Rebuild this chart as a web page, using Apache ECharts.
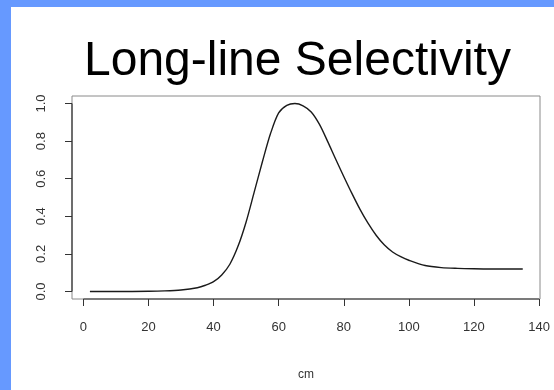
<!DOCTYPE html>
<html>
<head>
<meta charset="utf-8">
<style>
  html, body { margin: 0; padding: 0; background: #fff; }
  #chart { width: 554px; height: 390px; }
</style>
<script src="https://cdn.jsdelivr.net/npm/echarts@6/dist/echarts.min.js"></script>
</head>
<body>
<div id="chart"></div>
<script>
// selectivity curve
const lengthCm = [2, 10, 20, 25, 30, 35, 37.5, 40, 42.5, 45, 47.5, 50, 52.5, 55, 57.5, 60, 62.5, 65, 67.5, 70, 72.5, 75, 77.5, 80, 82.5, 85, 87.5, 90, 92.5, 95, 97.5, 100, 105, 110, 115, 120, 125, 130, 135]
const selectivity = [0, 0, 0.001, 0.003, 0.008, 0.02, 0.033, 0.052, 0.088, 0.145, 0.24, 0.37, 0.53, 0.69, 0.84, 0.95, 0.99, 1.0, 0.988, 0.955, 0.89, 0.8, 0.705, 0.612, 0.522, 0.437, 0.362, 0.298, 0.247, 0.21, 0.185, 0.166, 0.138, 0.127, 0.123, 0.121, 0.12, 0.12, 0.12]

const xTicks = [0, 20, 40, 60, 80, 100, 120, 140]
const yTicks = [0, 0.2, 0.4, 0.6, 0.8, 1.0]

const titleText = 'Long-line Selectivity'
const xName = 'cm'

const font = "'Liberation Sans', Arial, sans-serif"
const axisColor = '#333'
const xMin = -3.5
const xMax = 140.3
const yMin = -0.04
const yMax = 1.04

const chart = echarts.init(document.getElementById('chart'))

chart.setOption({
  backgroundColor: '#fff',
  animation: false,
  title: {
    text: titleText,
    left: 79,
    top: 33,
    textStyle: { fontFamily: font, fontSize: 48, fontWeight: 'normal', color: '#000' }
  },
  graphic: [
    { type: 'rect', shape: { x: 0, y: 0, width: 554, height: 7 }, style: { fill: '#6699ff' } },
    { type: 'rect', shape: { x: 0, y: 0, width: 11, height: 390 }, style: { fill: '#6699ff' } }
  ],
  grid: {
    left: 72, right: 14, top: 96, bottom: 91,
    show: true, borderColor: '#8a8a8a', borderWidth: 1, backgroundColor: 'transparent'
  },
  xAxis: {
    type: 'value',
    min: xMin,
    max: xMax,
    name: xName,
    nameLocation: 'middle',
    nameGap: 70,
    nameTextStyle: { fontFamily: font, fontSize: 12, color: axisColor },
    splitLine: { show: false },
    axisLine: { show: false, onZero: false },
    axisTick: { show: true, inside: false, customValues: xTicks, length: 7, lineStyle: { color: axisColor } },
    axisLabel: {
      customValues: xTicks,
      margin: 22,
      fontFamily: font,
      fontSize: 13,
      color: axisColor
    }
  },
  yAxis: {
    type: 'value',
    min: yMin,
    max: yMax,
    splitLine: { show: false },
    axisLine: { show: false, onZero: false },
    axisTick: { show: true, inside: false, customValues: yTicks, length: 7, lineStyle: { color: axisColor } },
    axisLabel: {
      customValues: yTicks,
      rotate: 90,
      margin: 24,
      fontFamily: font,
      fontSize: 13,
      color: axisColor,
      formatter: (v) => v.toFixed(1)
    }
  },
  series: [
    {
      type: 'line',
      data: lengthCm.map((x, i) => [x, selectivity[i]]),
      smooth: 0.3,
      showSymbol: false,
      lineStyle: { color: '#1a1a1a', width: 1.4 }
    },
    {
      // R draws the axis line only between the first and last tick
      type: 'line',
      silent: true,
      clip: false,
      showSymbol: false,
      data: [[xTicks[0], yMin], [xTicks[xTicks.length - 1], yMin]],
      lineStyle: { color: axisColor, width: 1.2 }
    },
    {
      type: 'line',
      silent: true,
      clip: false,
      showSymbol: false,
      data: [[xMin, yTicks[0]], [xMin, yTicks[yTicks.length - 1]]],
      lineStyle: { color: axisColor, width: 1.2 }
    }
  ]
})
</script>
</body>
</html>
